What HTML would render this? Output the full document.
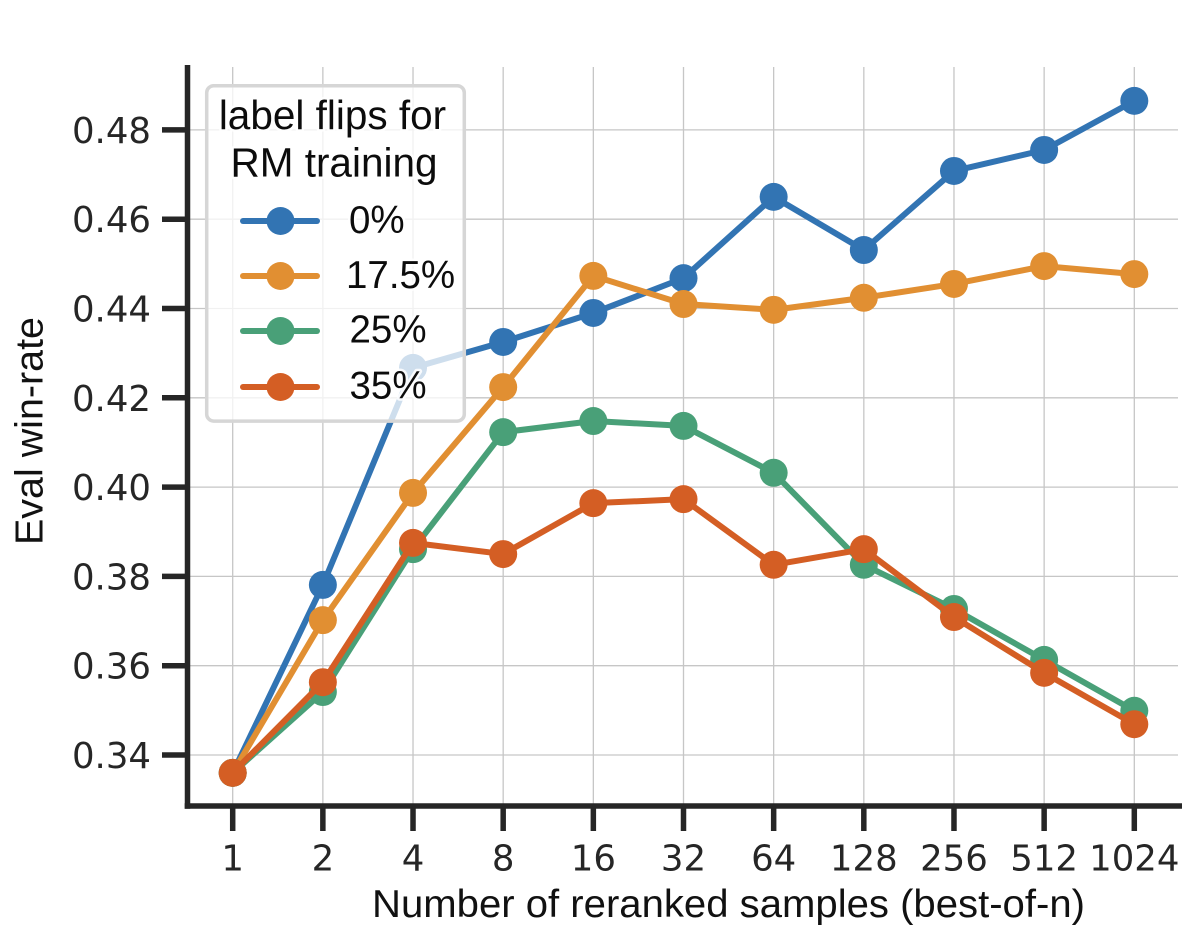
<!DOCTYPE html>
<html lang="en">
<head>
<meta charset="utf-8">
<title>Eval win-rate vs reranked samples</title>
<style>
html,body{margin:0;padding:0;background:#fff;width:1200px;height:950px;overflow:hidden}
svg{display:block}
.tick{font-family:"DejaVu Sans",sans-serif;font-size:35.5px;fill:#262626}
.axis-title{font-family:"Liberation Sans",Arial,sans-serif;font-size:39px;fill:#111}
.legend-text{font-family:"Liberation Sans",Arial,sans-serif;font-size:38.5px;fill:#0c0c0c;paint-order:stroke;stroke:#fff;stroke-width:5px;stroke-opacity:.85;stroke-linejoin:round}
.legend-title{font-size:40.5px}
</style>
</head>
<body>
<svg id="chart" xmlns="http://www.w3.org/2000/svg" width="1200" height="950" viewBox="0 0 1200 950">
  <g id="grid"></g>
  <g id="series"></g>
  <g id="axes"></g>
  <text class="axis-title" x="372" y="917" textLength="713" lengthAdjust="spacingAndGlyphs">Number of reranked samples (best-of-n)</text>
  <text class="axis-title" transform="translate(42.7,545) rotate(-90)" textLength="228" lengthAdjust="spacingAndGlyphs">Eval win-rate</text>
  <g>
    <rect x="206.7" y="85.7" width="257.6" height="335.4" rx="7" fill="#fff" fill-opacity="0.76" stroke="#d6d6d6" stroke-width="3.5"/>
    <text class="legend-text legend-title" x="332.5" y="129" text-anchor="middle">label flips for</text>
    <text class="legend-text legend-title" x="334" y="176.5" text-anchor="middle">RM training</text>
    <g>
      <line x1="243" x2="317" y1="221" y2="221" stroke="#3274b3" stroke-width="6" stroke-linecap="round"/>
      <circle cx="280.5" cy="221" r="14" fill="#3274b3"/>
      <text class="legend-text" x="349" y="233">0%</text>
    </g>
    <g>
      <line x1="243" x2="317" y1="276" y2="276" stroke="#e18f32" stroke-width="6" stroke-linecap="round"/>
      <circle cx="280.5" cy="276" r="14" fill="#e18f32"/>
      <text class="legend-text" x="346" y="288">17.5%</text>
    </g>
    <g>
      <line x1="243" x2="317" y1="331" y2="331" stroke="#49a078" stroke-width="6" stroke-linecap="round"/>
      <circle cx="280.5" cy="331" r="14" fill="#49a078"/>
      <text class="legend-text" x="349.5" y="342.5">25%</text>
    </g>
    <g>
      <line x1="243" x2="317" y1="387" y2="387" stroke="#d45e24" stroke-width="6" stroke-linecap="round"/>
      <circle cx="280.5" cy="387" r="14" fill="#d45e24"/>
      <text class="legend-text" x="349.5" y="398.5">35%</text>
    </g>
  </g>
</svg>
<script>
const categories = ["1","2","4","8","16","32","64","128","256","512","1024"];
const yTicks = [0.34,0.36,0.38,0.40,0.42,0.44,0.46,0.48];
const flips0 = [0.336,0.3781,0.4267,0.4325,0.4390,0.4468,0.4650,0.4531,0.4708,0.4755,0.4865];
const flips175 = [0.336,0.3702,0.3987,0.4224,0.4473,0.4410,0.4397,0.4424,0.4455,0.4495,0.4477];
const flips25 = [0.336,0.3541,0.3861,0.4123,0.4148,0.4137,0.4032,0.3826,0.3727,0.3613,0.3499];
const flips35 = [0.336,0.3563,0.3875,0.3850,0.3964,0.3973,0.3826,0.3861,0.3709,0.3584,0.3469];

const NS = "http://www.w3.org/2000/svg";
function xPos(i){ return 232.7 + i * 90.16; }
function yPos(v){ return 755 - (v - 0.34) * 4465; }
function make(tag, attrs, parent){
  const el = document.createElementNS(NS, tag);
  for (const k in attrs) el.setAttribute(k, attrs[k]);
  parent.appendChild(el);
  return el;
}
const grid = document.getElementById("grid");
const axes = document.getElementById("axes");
const seriesGroup = document.getElementById("series");

yTicks.forEach(function(t){
  const y = yPos(t);
  const g = make("line", {x1:190, x2:1178, y1:y, y2:y, stroke:"#c6c6c6", "stroke-width":1.3}, grid);
  
  
  const m = make("line", {x1:162, x2:187, y1:y, y2:y, stroke:"#262626", "stroke-width":5.5}, axes);
  
  
  const l = make("text", {x:151, y:y+13, "text-anchor":"end", "class":"tick"}, axes);
  
  
  l.textContent = t.toFixed(2);
});
categories.forEach(function(c, i){
  const x = xPos(i);
  const g = make("line", {x1:x, x2:x, y1:67, y2:804, stroke:"#c6c6c6", "stroke-width":1.3}, grid);
  
  
  const m = make("line", {x1:x, x2:x, y1:806, y2:831, stroke:"#262626", "stroke-width":5.5}, axes);
  
  
  const l = make("text", {x:x, y:870.5, "text-anchor":"middle", "class":"tick"}, axes);
  
  
  l.textContent = c;
});
const ySpine = make("line", {x1:187.5, x2:187.5, y1:65, y2:808.7, stroke:"#262626", "stroke-width":5.5}, axes);


const xSpine = make("line", {x1:184.7, x2:1182, y1:806, y2:806, stroke:"#262626", "stroke-width":5.5}, axes);



function drawSeries(values, color, name){
  const g = make("g", {}, seriesGroup);
  
  
  const pts = values.map(function(v, i){ return xPos(i) + "," + yPos(v); }).join(" ");
  const line = make("polyline", {points:pts, fill:"none", stroke:color, "stroke-width":6, "stroke-linejoin":"round", "stroke-linecap":"round"}, g);
  
  
  values.forEach(function(v, i){
    const p = make("circle", {cx:xPos(i), cy:yPos(v), r:14, fill:color}, g);
    
    
  });
}
drawSeries(flips0, "#3274b3", "series-0-percent");
drawSeries(flips175, "#e18f32", "series-17-5-percent");
drawSeries(flips25, "#49a078", "series-25-percent");
drawSeries(flips35, "#d45e24", "series-35-percent");
</script>
</body>
</html>
